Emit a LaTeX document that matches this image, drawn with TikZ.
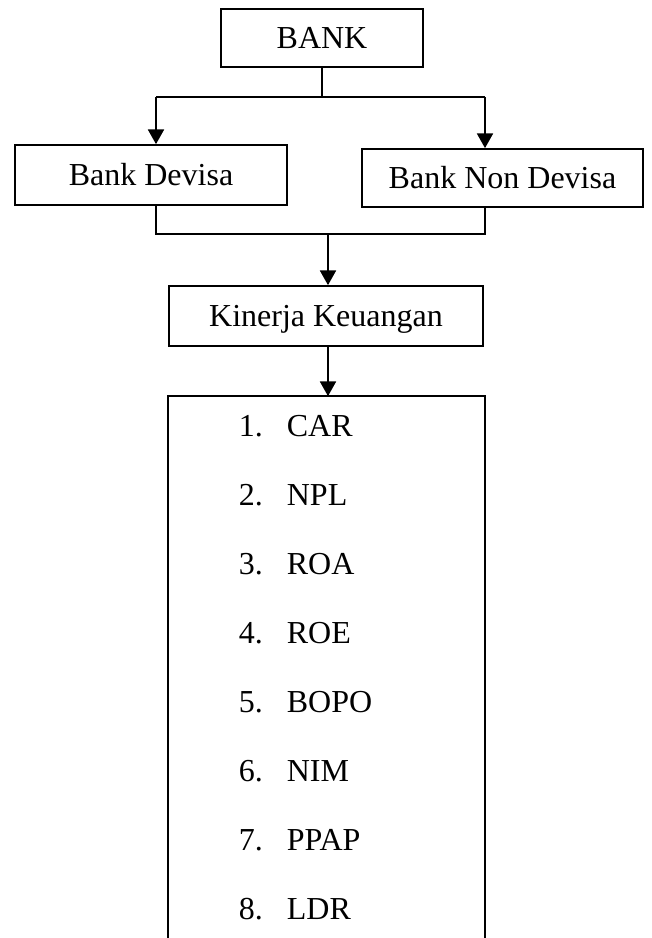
\documentclass[tikz,border=0pt]{standalone}
\usepackage{fontspec}
\setmainfont{Liberation Serif}
\usetikzlibrary{arrows.meta}
\begin{document}
\begin{tikzpicture}[x=0.75pt,y=-0.75pt,
  line width=1.3pt,
  boxnode/.style={draw,inner sep=0pt,font=\fontsize{24}{28}\selectfont,
    text height=15.9pt,text depth=0pt},
  arr/.style={-{Triangle[length=11pt,width=12pt]}},
  item/.style={anchor=base west,inner sep=0pt,font=\fontsize{24}{28}\selectfont}]
\useasboundingbox (0,0) rectangle (651,938);
% boxes
\node[boxnode,minimum width=151.5pt,minimum height=43.5pt] (bank) at (322,38) {BANK};
\node[boxnode,minimum width=204pt,minimum height=45pt] (devisa) at (151,175) {Bank Devisa};
\node[boxnode,minimum width=210.75pt,minimum height=43.5pt] (nondevisa) at (502.5,178) {Bank Non Devisa};
\node[boxnode,minimum width=235.5pt,minimum height=45pt] (kinerja) at (326,316) {Kinerja Keuangan};
\node[inner sep=0pt,minimum width=236.25pt,minimum height=405.75pt] (list) at (326.5,667.5) {};
\draw (list.south west) -- (list.north west) -- (list.north east) -- (list.south east);
% list items
\foreach \n/\t [count=\i from 0] in {1/CAR,2/NPL,3/ROA,4/ROE,5/BOPO,6/NIM,7/PPAP,8/LDR}{
  \node[item] (it\n) at (238,436+69.14*\i) {\makebox[36pt][l]{\n.}\t};
}
% connectors
\coordinate (j1) at (bank.south |- 0,97);
\coordinate (dl) at (156,97);
\coordinate (dr) at (485,97);
\draw (bank.south) -- (j1);
\draw (dl) -- (dr);
\draw[arr] (dl) -- (dl |- devisa.north);
\draw[arr] (dr) -- (dr |- nondevisa.north);
\coordinate (ml) at (156,234);
\coordinate (mr) at (485,234);
\coordinate (mc) at (328,234);
\draw (ml |- devisa.south) -- (ml) -- (mr) -- (mr |- nondevisa.south);
\draw[arr] (mc) -- (mc |- kinerja.north);
\draw[arr] (mc |- kinerja.south) -- (mc |- list.north);
\end{tikzpicture}
\end{document}
